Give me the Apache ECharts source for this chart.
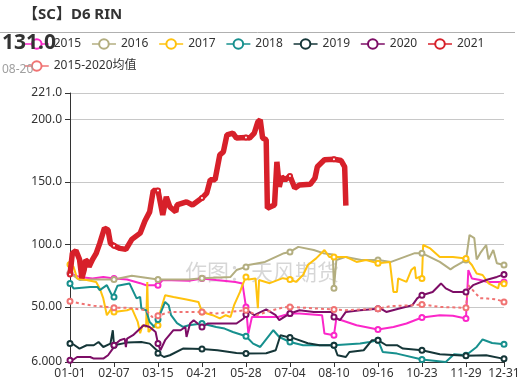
<!DOCTYPE html>
<html>
<head>
<meta charset="utf-8">
<script src="https://cdn.jsdelivr.net/npm/echarts@6/dist/echarts.min.js"></script>
<style>
html,body{margin:0;padding:0;background:#fff;}
#chart{width:528px;height:387px;}
</style>
</head>
<body>
<div id="chart"></div>
<script>
// ---- Data (day index from 01-01 on a 366-day calendar, value) ----
const monthLengths = [31,29,31,30,31,30,31,31,30,31,30,31];
const categories = [];
monthLengths.forEach(function (n, m) {
  for (let d = 1; d <= n; d++) {
    categories.push(String(m + 1).padStart(2, '0') + '-' + String(d).padStart(2, '0'));
  }
});

const yTicks = [6, 50, 100, 150, 200, 221];
const seriesNames = ['2015','2016','2017','2018','2019','2020','2021','2015-2020均值'];

const d2015 = [[0,76.8],[8,74],[19,72.8],[28,74],[37,72.8],[48,72],[59,69],[64,67.4],[74,67.4],[78,71.5],[100,71],[111,72.8],[123,71.5],[139,70],[145,68.8],[148,50],[150,28.7],[153,42],[160,42],[175,42],[185,44.8],[193,44.8],[212,43.4],[214,28.7],[222,27.4],[224,40.8],[241,35.4],[259,32],[272,34],[283,36.8],[296,41.6],[311,43.4],[322,43],[333,40.8],[335,79.5],[338,72.8],[345,71.5],[351,70],[365,70]];

const d2016 = [[0,77],[8,71.5],[20,72],[37,72],[52,75],[74,72],[100,72],[111,73],[135,74],[140,79.5],[148,82],[150,83.5],[164,86],[180,93],[185,94],[192,98],[205,95.5],[213,93],[221,92],[222,65],[224,87.5],[232,90],[245,87.5],[259,87.5],[270,86],[290,93],[296,93],[311,86],[320,80],[323,82],[333,87.5],[336,107.5],[340,105],[342,88],[345,93],[350,99.5],[352,88],[356,95.5],[359,85],[365,83.5]];

const d2017 = [[0,84],[3,82],[6,72.8],[14,71.5],[22,70],[25,64.8],[28,56.8],[31,43.4],[35,48.8],[37,46],[48,47.4],[52,48.8],[57,38],[59,29],[61,35.4],[64,34],[65,70],[66,30],[73,36.8],[74,35.4],[80,59.4],[87,58],[98,56],[108,54],[111,46],[120,43.4],[126,40.8],[131,43.4],[135,42],[138,51.4],[143,62],[145,67.4],[148,74],[150,72],[156,72.8],[158,49],[159,71.5],[168,69],[179,73],[185,72],[190,70],[196,75.5],[200,83.5],[207,88.8],[214,95.5],[218,90],[222,90],[232,90],[241,86],[249,87.5],[259,85],[269,86],[272,62],[275,62],[276,72.8],[283,70],[287,79.5],[290,82],[291,72.8],[294,74],[296,72.8],[297,99.5],[303,96.8],[311,90],[322,90],[333,88.8],[338,83.5],[342,76.8],[347,75.5],[352,68.8],[360,64.8],[361,68.8],[365,68.5]];

const d2018 = [[0,68.8],[3,64.8],[17,66],[23,66],[25,63.4],[31,67.4],[36,58],[37,58],[40,67],[50,68.8],[52,64.8],[56,56.8],[59,58],[60,48.8],[64,47.4],[67,38],[71,34],[74,40],[80,54],[83,51.4],[85,43.4],[90,37],[95,34],[100,35.4],[111,36.8],[123,34],[130,32.7],[137,30],[148,26.6],[154,20.7],[160,18],[171,31.4],[176,26],[185,22],[196,19.4],[222,19.4],[244,20.7],[252,22],[259,23.4],[263,14],[275,12.7],[296,8],[316,6],[323,12.2],[333,11.4],[342,18],[347,24],[355,21.2],[365,20.2]];

const d2019 = [[0,20.7],[3,20],[8,16.7],[14,19.4],[20,19.4],[24,22],[28,18],[34,20.7],[36,31.4],[37,19.4],[48,21.5],[60,22],[67,20.7],[73,15.4],[74,13],[79,10],[84,11.4],[95,16.7],[111,16.3],[124,15.4],[140,13.2],[148,12.7],[165,13],[173,15.4],[177,27.4],[185,25.5],[189,24.7],[200,21],[210,19.4],[222,19.4],[225,11.4],[232,10],[235,14],[247,15.4],[254,23.4],[259,23.4],[266,19.4],[275,19.4],[280,16.7],[296,15.4],[311,12.2],[333,11],[350,11.4],[365,8.5]];

const d2020 = [[0,7.4],[3,8],[6,10],[17,10],[20,8.7],[28,8.7],[32,11.4],[36,16.7],[37,19.4],[42,23.4],[46,24.7],[47,18],[48,24.7],[53,27.4],[59,32.7],[62,35.4],[67,34],[72,30],[74,20.7],[76,15.4],[80,23.4],[87,31.4],[93,31.4],[97,34],[98,26],[101,36.8],[104,39.4],[111,34],[116,36.8],[126,36.8],[140,36.8],[146,40.8],[148,44],[149,47.4],[155,43.4],[165,48],[173,43.4],[176,39.4],[185,44.8],[193,47.4],[205,46],[220,46],[222,42],[227,39.4],[232,46],[244,47.4],[259,48.5],[261,48.8],[266,46],[277,48.8],[288,51.4],[292,56.8],[296,59.4],[305,62],[312,68.8],[316,64.8],[322,62],[333,62],[339,67.4],[350,71.5],[359,74],[365,76]];

const d2021 = [[0,76],[2,93],[5,95],[8,88],[10,73],[12,80],[13,87.5],[15,86],[16,82],[19,88],[22,92.8],[25,100.8],[29,113],[32,111.5],[34,100.8],[37,99],[42,96.8],[47,96],[52,104],[59,109],[63,118.7],[67,126],[70,143],[74,143],[78,123.5],[81,138],[84,130],[89,126],[90,131.5],[98,134],[103,131.5],[111,137],[115,141],[118,151.6],[122,151.6],[126,171.6],[129,174],[132,187.6],[137,189],[140,185],[148,185.4],[151,185],[155,189],[158,198],[160,199.6],[162,185],[165,183.6],[166,129],[172,131.5],[174,166],[176,146],[178,154],[181,151.5],[185,154.7],[189,145],[193,147.5],[202,148],[206,153],[208,162],[214,167.6],[222,168],[228,167],[231,162],[232,131.0]];

const dMean = [[0,54.6],[8,52.8],[20,50.9],[31,50],[37,49.3],[48,49.3],[64,47.4],[69,42],[74,43],[84,46],[104,46],[111,46],[123,44.8],[148,47.4],[157,43.4],[165,46],[179,49.6],[185,50],[193,49.6],[207,48.8],[222,48],[232,47.4],[246,48],[259,48.5],[269,50.6],[288,51.4],[296,52],[311,50],[333,49.3],[335,67.4],[342,60],[345,57],[351,56.8],[359,56],[365,54]];

const seriesData = [d2015, d2016, d2017, d2018, d2019, d2020, d2021, dMean];
const colors = ['#fb27c9','#b3ae80','#ffc20e','#17908e','#153638','#7d0d66','#d7202a','#f07373'];

// ---- Chart ----
const FONT = '"Noto Sans", "Noto Sans CJK SC", sans-serif';
const chart = echarts.init(document.getElementById('chart'), null, {renderer: 'canvas'});
const last2021 = d2021[d2021.length - 1];

const series = seriesNames.map(function (name, i) {
  const is2021 = name === '2021';
  const isMean = i === 7;
  return {
    name: name,
    type: 'line',
    data: seriesData[i],
    symbol: 'emptyCircle',
    symbolSize: is2021 ? 4 : 5,
    showSymbol: true,
    smooth: false,
    z: is2021 ? 5 : 2,
    itemStyle: {color: colors[i], borderWidth: 1},
    lineStyle: {
      color: colors[i],
      width: is2021 ? 5.5 : 2,
      type: isMean ? [3, 3] : 'solid'
    },
    emphasis: {disabled: true},
    animation: false
  };
});

chart.setOption({
  animation: false,
  color: colors,
  textStyle: {fontFamily: FONT},
  grid: {left: 70, right: 24, top: 93, bottom: 25, containLabel: false},
  legend: {
    data: seriesNames.map(function (n) {
      return {name: n, itemStyle: {borderWidth: 1.2}, lineStyle: {width: 1.5, type: 'solid'}};
    }),
    left: 19,
    top: 33,
    itemWidth: 24,
    itemHeight: 12,
    itemGap: 10,
    textStyle: {color: '#333', fontSize: 12, fontFamily: FONT}
  },
  xAxis: {
    type: 'category',
    data: categories,
    boundaryGap: false,
    axisLine: {lineStyle: {color: '#333'}},
    axisTick: {length: 5, lineStyle: {color: '#333'}},
    axisLabel: {interval: 36, showMaxLabel: true, color: '#333', fontSize: 12, margin: 6, fontFamily: FONT},
    splitLine: {show: false}
  },
  yAxis: {
    type: 'value',
    min: 6,
    max: 221,
    axisLine: {show: true, lineStyle: {color: '#333'}},
    axisTick: {show: true, length: 5, customValues: yTicks, lineStyle: {color: '#333'}},
    axisLabel: {
      customValues: yTicks,
      color: '#333', fontSize: 12, margin: 8, fontFamily: FONT,
      formatter: function (v) { return Number(v).toPrecision(4); }
    },
    splitLine: {show: true, lineStyle: {color: '#c8c8c8'}}
  },
  graphic: [
    {type: 'text', left: 23, top: 7, z: 10,
      style: {text: '【SC】D6 RIN', font: 'bold 15px ' + FONT, fill: '#333'}},
    {type: 'line', z: 10, shape: {x1: 0, y1: 32.5, x2: 515, y2: 32.5},
      style: {stroke: '#b0b0b0', lineWidth: 1}},
    {type: 'text', left: 2, top: 33, z: 10,
      style: {text: last2021[1].toFixed(1), font: 'bold 21px ' + FONT, fill: '#333'}},
    {type: 'text', left: 2, top: 64, z: 10,
      style: {text: categories[last2021[0]], font: '12px ' + FONT, fill: '#a0a0a0'}},
    {type: 'text', x: 262, y: 272, z: 0, silent: true,
      style: {text: '作图：天风期货', font: '22px "Noto Sans CJK SC", sans-serif', fill: 'rgba(0,0,0,0.16)', align: 'center', verticalAlign: 'middle'}}
  ],
  series: series
});
</script>
</body>
</html>
